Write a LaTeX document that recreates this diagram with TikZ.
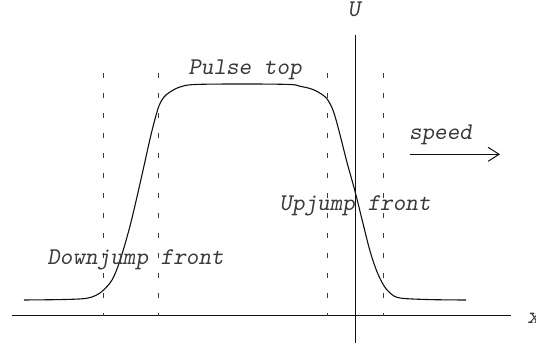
\documentclass[tikz,border=0pt]{standalone}
\usepackage{xcolor}
\usetikzlibrary{arrows.meta,positioning}
\definecolor{ink}{HTML}{111111}
\definecolor{inkgray}{HTML}{3A3A3A}
\tikzset{
  lbl/.style={font=\ttfamily\slshape\fontsize{12}{14}\selectfont,
              text=inkgray,inner sep=0pt},
  axisline/.style={draw=ink,line width=0.5pt},
  guide/.style={draw=inkgray,line width=0.5pt,dash pattern=on 2.6pt off 7.4pt},
  pulse/.style={draw=ink,line width=0.55pt},
  speedarr/.style={-{Straight Barb[length=5.5pt,width=7pt]},line width=0.5pt,draw=ink}
}

\begin{document}
\begin{tikzpicture}[x=0.5pt,y=-0.5pt]
      \useasboundingbox (0,0) rectangle (536,346);
      \draw[axisline] (12,316) -- (511,316);
      \draw[axisline] (355.5,35) -- (355.5,343);
      \foreach \xg in {103.5,158.5,327,383}
        \draw[guide] (\xg,73) -- (\xg,316);
      \draw[pulse] plot[smooth,tension=0.55] coordinates {
        (24,300) (60,299.6) (82,298.8) (92,297) (100,293) (107,286.5)
        (112,280) (117,269) (123,251) (130,226) (136.5,199) (143.3,169)
        (150,139) (155,119) (159.3,105) (164,97) (170,92) (180,87)
        (195,84.5) (245,84) (290,84.5) (300,86.3) (310,88.5) (318,92)
        (326.7,98.5) (333.3,111) (340,134.7) (346.7,161.3) (355,191.3)
        (363.3,224.7) (370,251) (376.7,271) (383.3,284.7) (390,293)
        (400,298) (430,299.6) (466,300)};
      \node[lbl,anchor=base] (toplbl) at (245,75) {Pulse top};
      \node[lbl,anchor=base] (uplbl) at (355,210.5) {Upjump front};
      \node[lbl,anchor=base] (downlbl) at (135.5,265) {Downjump front};
      \node[lbl,anchor=base] (speedlbl) at (440.5,140) {speed};
      \node[lbl,anchor=base] (ulbl) at (354,17) {U};
      \node[lbl,anchor=base west] (xlbl) at (527,324) {x};
      \coordinate (sp0) at (409.5,154.3);
      \coordinate (sp1) at (500,154.3);
      \draw[speedarr] (sp0) -- (sp1);
\end{tikzpicture}
\end{document}
